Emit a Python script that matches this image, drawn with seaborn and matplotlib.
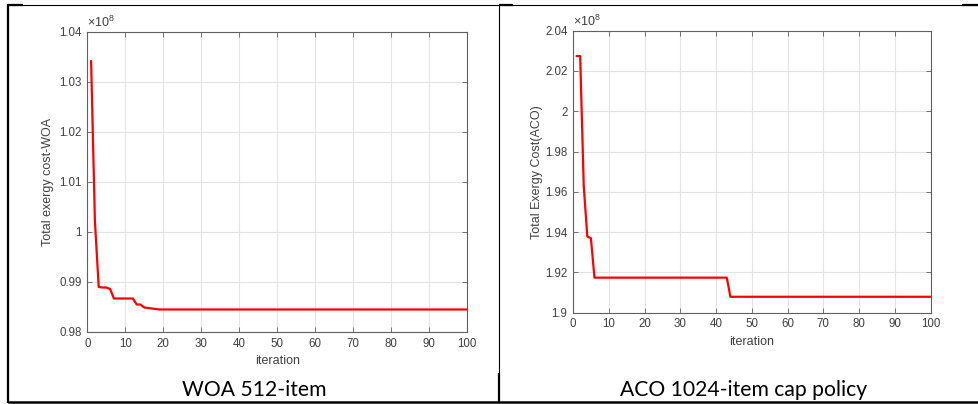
import numpy as np
import pandas as pd
import seaborn as sns
import matplotlib
matplotlib.use("Agg")
import matplotlib.pyplot as plt
from matplotlib.lines import Line2D
from matplotlib.ticker import FuncFormatter, MultipleLocator

# ---- data: best total exergy cost per iteration, in units of 10^8 ----
iterations = list(range(1, 101))

woa_cost = ([1.0342, 1.0022, 0.9890, 0.9889, 0.9889, 0.9886, 0.9867]
            + [0.9867] * 5
            + [0.9855, 0.9855, 0.9849, 0.9848, 0.9847, 0.9846, 0.9845]
            + [0.9845] * 81)

aco_cost = ([2.0274, 2.0274, 1.9630, 1.9378, 1.9370, 1.9174]
            + [1.9174] * 37
            + [1.9079] * 57)

woa_ylim = (0.98, 1.04)
aco_ylim = (1.90, 2.04)
woa_ystep = 0.01
aco_ystep = 0.02

woa_ylabel = "Total exergy cost-WOA"
aco_ylabel = "Total Exergy Cost(ACO)"
xlabel = "iteration"
captions = ["WOA 512-item", "ACO 1024-item cap policy"]

# ---- style ----
sns.set_theme(style="white")
plt.rcParams["font.family"] = ["Liberation Sans", "DejaVu Sans"]
plt.rcParams["mathtext.default"] = "regular"

W, H = 979, 404
fig = plt.figure(figsize=(W / 100, H / 100), dpi=100)

SPINE = "#606060"
TEXT = "#404040"
GRID = "#e4e4e4"


def px_axes(left, top, right, bottom):
    return fig.add_axes([left / W, 1 - bottom / H, (right - left) / W, (bottom - top) / H])


def style_axes(ax, ylim, ystep, ylabel, ypad):
    ax.set_xlim(0, 100)
    ax.set_ylim(*ylim)
    ax.xaxis.set_major_locator(MultipleLocator(10))
    ax.yaxis.set_major_locator(MultipleLocator(ystep))
    ax.yaxis.set_major_formatter(FuncFormatter(lambda v, p: f"{round(v, 4):g}"))
    ax.grid(True, color=GRID, linewidth=0.8)
    ax.set_axisbelow(True)
    for s in ax.spines.values():
        s.set_color(SPINE)
        s.set_linewidth(0.8)
    ax.tick_params(direction="in", bottom=True, left=True, top=True, right=True,
                   length=3.5, width=0.6, color=SPINE, labelcolor=TEXT,
                   labelsize=8.3, pad=4)
    ax.set_xlabel(xlabel, fontsize=9, color=TEXT, labelpad=4)
    ax.set_ylabel(ylabel, fontsize=9, color=TEXT, labelpad=ypad)
    ax.text(0.0, 1.006, r"$\times$10$^{8}$", transform=ax.transAxes,
            ha="left", va="bottom", fontsize=9, color=TEXT)


woa_df = pd.DataFrame({"iteration": iterations, "cost": woa_cost})
aco_df = pd.DataFrame({"iteration": iterations, "cost": aco_cost})

ax1 = px_axes(87.3, 32, 467.3, 332)
sns.lineplot(data=woa_df, x="iteration", y="cost", ax=ax1, color="#ff0000", linewidth=1.6)
style_axes(ax1, woa_ylim, woa_ystep, woa_ylabel, ypad=3.5)

ax2 = px_axes(573, 30.7, 930.7, 312.7)
sns.lineplot(data=aco_df, x="iteration", y="cost", ax=ax2, color="#ff0000", linewidth=1.6)
style_axes(ax2, aco_ylim, aco_ystep, aco_ylabel, ypad=1.5)

# ---- table frame and captions ----
def hline(y, x0, x1, lw):
    fig.add_artist(Line2D([x0 / W, x1 / W], [1 - y / H, 1 - y / H], color="black",
                          linewidth=lw, solid_capstyle="butt"))


def vline(x, y0, y1, lw):
    fig.add_artist(Line2D([x / W, x / W], [1 - y0 / H, 1 - y1 / H], color="black",
                          linewidth=lw, solid_capstyle="butt"))


hline(4.5, 8, 979, 0.8)
hline(4.5, 8, 23, 1.6)
hline(4.5, 499, 513, 1.6)
hline(4.5, 962, 979, 1.6)
hline(402, 8, 979, 1.8)
vline(8.5, 4, 403, 1.6)
vline(499.5, 4, 373, 0.8)
vline(499.5, 373, 403, 1.6)

fig.text(254 / W, 1 - 396 / H, captions[0], ha="center", va="baseline",
         fontsize=15.2, color="black", family=["Lato", "DejaVu Sans"])
fig.text(744 / W, 1 - 396 / H, captions[1], ha="center", va="baseline",
         fontsize=15.2, color="black", family=["Lato", "DejaVu Sans"])

fig.savefig("out.png", dpi=100)
